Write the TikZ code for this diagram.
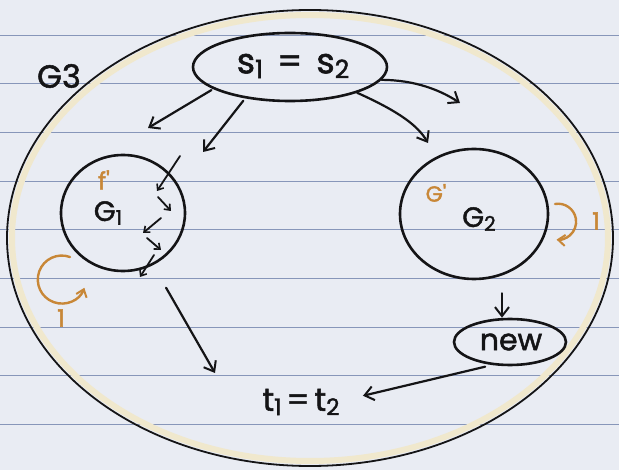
\documentclass[tikz,border=0pt]{standalone}
\usepackage{fontspec}
\setmainfont{Poppins}
\newfontfamily\hand[FakeBold=1.6]{Poppins}
\usetikzlibrary{arrows.meta,shapes.geometric,calc}
\definecolor{paper}{RGB}{233,236,243}
\definecolor{rule}{RGB}{135,150,185}
\definecolor{ink}{RGB}{20,20,22}
\definecolor{hl}{RGB}{240,232,205}
\definecolor{orng}{RGB}{200,135,55}
\newcommand{\sbs}[1]{\raisebox{-0.25ex}{\scalebox{0.72}{#1}}}
\tikzset{
  arr/.style={draw=ink, line width=2.2pt, line cap=round, -{Straight Barb[length=9pt,width=14pt,line width=2pt]}},
  small/.style={draw=ink, line width=1.8pt, line cap=round, -{Straight Barb[length=5pt,width=8pt,line width=1.6pt]}},
  oarr/.style={draw=orng, line width=2.4pt, line cap=round, -{Straight Barb[length=7pt,width=11pt,line width=2pt]}},
  bubble/.style={ellipse, draw=ink, line width=2.6pt, inner sep=0pt},
  lbl/.style={text=ink, inner sep=0pt},
  olbl/.style={text=orng, inner sep=0pt, font=\hand\fontsize{24}{24}\selectfont}
}
\begin{document}
\begin{tikzpicture}[x=1pt,y=-1pt]
\useasboundingbox (0,0) rectangle (619,470);
\fill[paper] (0,0) rectangle (619,470);
% ruled lines
\foreach \yy in {35,83.6,132,181,229,278,327,375,424} {
  \draw[rule, line width=0.9pt] (0,\yy) -- (619,\yy);
}
% outer graph G3
\draw[hl, line width=6pt] (310,238) ellipse [x radius=298, y radius=223];
\draw[ink, line width=1.8pt] (310,238) ellipse [x radius=303, y radius=228];
\node[lbl, font=\hand\fontsize{32}{32}\selectfont] (g3) at (59,76) {G3};

% source node
\node[bubble, minimum width=194, minimum height=68] (s) at (290,67) {};
\node[lbl, font=\hand\fontsize{35}{35}\selectfont] (stext) at (293,66) {s\sbs{1}\hspace{14pt}=\hspace{14pt}s\sbs{2}};

% G1
\node[ellipse, draw=ink, line width=2.6pt, minimum width=124, minimum height=116] (G1) at (123,213) {};
\node[lbl, font=\hand\fontsize{28}{28}\selectfont] (g1t) at (108,213) {G\sbs{1}};
\node[olbl] (fp) at (104,180) {f'};

% G2
\node[ellipse, draw=ink, line width=2.6pt, minimum width=148, minimum height=130] (G2) at (474,214) {};
\node[lbl, font=\hand\fontsize{28}{28}\selectfont] (g2t) at (479,219) {G\sbs{2}};
\node[olbl, font=\hand\fontsize{22}{22}\selectfont] (gp) at (436,193) {G'};

% new
\node[bubble, minimum width=112, minimum height=46] (new) at (510,342) {};
\node[lbl, font=\hand\fontsize{30}{30}\selectfont] (newt) at (511,342) {new};

% sink
\node[lbl, font=\hand\fontsize{32}{32}\selectfont, inner sep=3pt] (t) at (301,402) {t\sbs{1}\hspace{5pt}=\hspace{5pt}t\sbs{2}};

% free ends
\coordinate (a1) at (148,128);
\coordinate (a2) at (203,152);
\coordinate (a3) at (428,143);
\coordinate (a4) at (460,103);
\coordinate (tin) at (215,373);

% arrows from s
\draw[arr, shorten <=2pt] (s.196) -- (a1);
\draw[arr, shorten <=3pt] (s.215) -- (a2);
\draw[arr] (s.339) .. controls (400,112) and (418,126) .. (a3);
\draw[arr] (s.352) .. controls (415,80) and (440,90) .. (a4);

% zigzag inside G1
\coordinate (z0) at (180,156);
\coordinate (z1) at (157,191);
\coordinate (z2) at (158,197);
\coordinate (z3) at (171,211);
\coordinate (z4) at (161,218);
\coordinate (z5) at (143,233);
\coordinate (z6) at (147,238);
\coordinate (z7) at (161,250);
\coordinate (z8) at (154,255);
\coordinate (z9) at (140,277);
\draw[small] (z0) -- (z1);
\draw[small] (z2) -- (z3);
\draw[small] (z4) -- (z5);
\draw[small] (z6) -- (z7);
\draw[small] (z8) -- (z9);

% G1 to sink
\draw[arr, shorten <=26pt] (G1.-60) -- (tin);

% G2 to new
\draw[arr] ([xshift=-8pt,yshift=-13pt]new.north |- G2.south) -- ([xshift=-8pt]new.north);

% new to sink
\draw[arr, shorten <=7pt, shorten >=27pt] (new.232) -- ([xshift=-6pt]t.east);

% orange self loops
\draw[oarr] (70,257) arc[start angle=-70, end angle=-340, radius=24];
\node[olbl] (one1) at (61,318) {1};
\draw[oarr] (555,204) arc[start angle=-100, end angle=95, radius=18];
\node[olbl] (one2) at (596,221) {1};
\end{tikzpicture}
\end{document}
